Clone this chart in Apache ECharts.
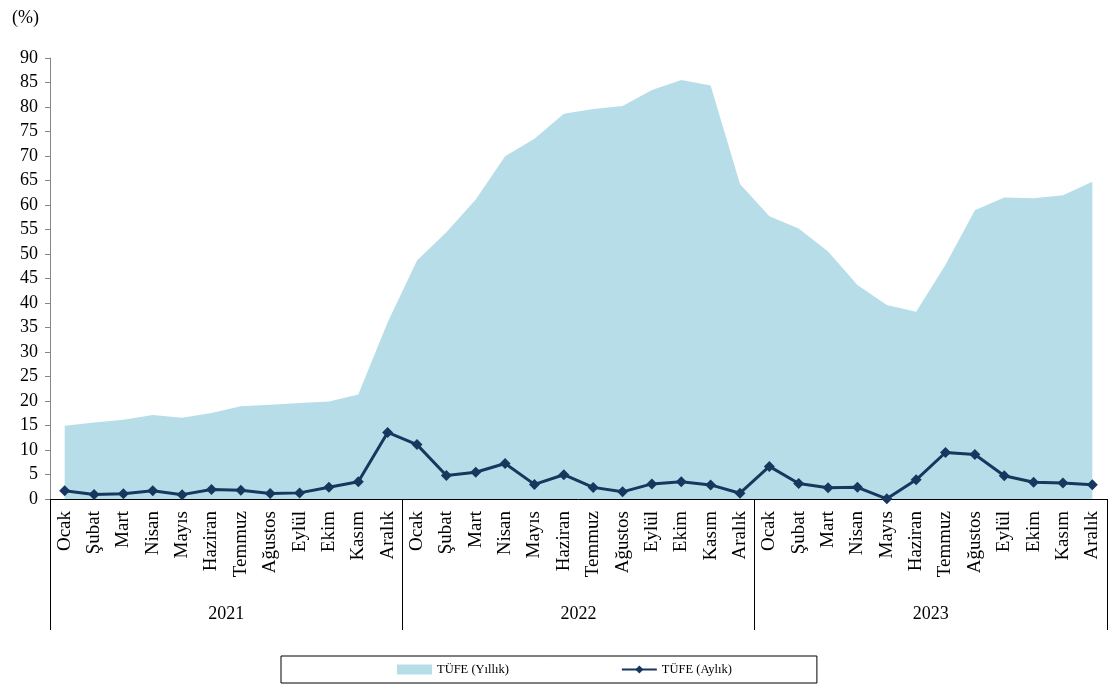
<!DOCTYPE html>
<html>
<head>
<meta charset="utf-8">
<script src="https://cdn.jsdelivr.net/npm/echarts@6/dist/echarts.min.js"></script>
<style>
html,body{margin:0;padding:0;background:#fff;}
#chart{width:1109px;height:685px;}
</style>
</head>
<body>
<div id="chart"></div>
<script>
const months = ['Ocak','Şubat','Mart','Nisan','Mayıs','Haziran','Temmuz','Ağustos','Eylül','Ekim','Kasım','Aralık'];
const years = ['2021','2022','2023'];
const categories = [].concat(months, months, months);
const annual = [
  14.97, 15.61, 16.19, 17.14, 16.59, 17.53, 18.95, 19.25, 19.58, 19.89, 21.31, 36.08,
  48.69, 54.44, 61.14, 69.97, 73.50, 78.62, 79.60, 80.21, 83.45, 85.51, 84.39, 64.27,
  57.68, 55.18, 50.51, 43.68, 39.59, 38.21, 47.83, 58.94, 61.53, 61.36, 61.98, 64.77
];
const monthly = [
  1.68, 0.91, 1.08, 1.68, 0.89, 1.94, 1.80, 1.12, 1.25, 2.39, 3.51, 13.58,
  11.10, 4.81, 5.46, 7.25, 2.98, 4.95, 2.37, 1.46, 3.08, 3.54, 2.88, 1.18,
  6.65, 3.15, 2.29, 2.39, 0.04, 3.92, 9.49, 9.09, 4.75, 3.43, 3.28, 2.93
];
const yTicks = {min: 0, max: 90, interval: 5};
const nameAnnual = 'TÜFE (Yıllık)';
const nameMonthly = 'TÜFE (Aylık)';

const FONT = '"Liberation Serif", "Times New Roman", serif';
const chart = echarts.init(document.getElementById('chart'));
chart.setOption({
  backgroundColor: '#fff',
  animation: false,
  title: {
    text: '(%)', left: 7, top: 4,
    textStyle: {fontFamily: FONT, fontSize: 18, fontWeight: 'normal', color: '#000'}
  },
  grid: {left: 50, right: 2, top: 58, bottom: 186, containLabel: false},
  legend: {
    left: 281, top: 656,
    padding: [7, 85, 7, 116],
    borderColor: '#000', borderWidth: 1,
    itemGap: 112, itemWidth: 35, itemHeight: 10,
    textStyle: {fontFamily: FONT, fontSize: 12.5, color: '#000'},
    data: [{name: nameAnnual, icon: 'rect'}, {name: nameMonthly}]
  },
  xAxis: [{
    type: 'category', data: categories, boundaryGap: true, position: 'bottom',
    axisLine: {show: true, onZero: false, lineStyle: {color: '#000', width: 1}},
    axisTick: {show: false},
    axisLabel: {interval: 0, rotate: 90, margin: 12, fontFamily: FONT, fontSize: 19, color: '#000'},
    splitLine: {show: false}
  }, {
    type: 'category', data: years, boundaryGap: true, position: 'bottom',
    axisLine: {show: false},
    axisTick: {show: true, interval: 0, length: 131, lineStyle: {color: '#000', width: 1}},
    axisLabel: {interval: 0, margin: 106, fontFamily: FONT, fontSize: 18, color: '#000'},
    splitLine: {show: false}
  }],
  yAxis: {
    type: 'value', min: yTicks.min, max: yTicks.max, interval: yTicks.interval,
    axisLine: {show: true, lineStyle: {color: '#868686', width: 1}},
    axisTick: {show: true, length: 5, lineStyle: {color: '#868686'}},
    axisLabel: {margin: 12, fontFamily: FONT, fontSize: 18, color: '#000'},
    splitLine: {show: false}
  },
  series: [{
    name: nameAnnual, type: 'line', data: annual, xAxisIndex: 0,
    symbol: 'none', lineStyle: {width: 0, color: '#B7DEE8'},
    itemStyle: {color: '#B7DEE8'},
    areaStyle: {color: '#B7DEE8', opacity: 1}, z: 1
  }, {
    name: nameMonthly, type: 'line', data: monthly, xAxisIndex: 0,
    symbol: 'diamond', symbolSize: 11,
    lineStyle: {width: 3, color: '#17375E'},
    itemStyle: {color: '#17375E'}, z: 3
  }]
});
</script>
</body>
</html>
